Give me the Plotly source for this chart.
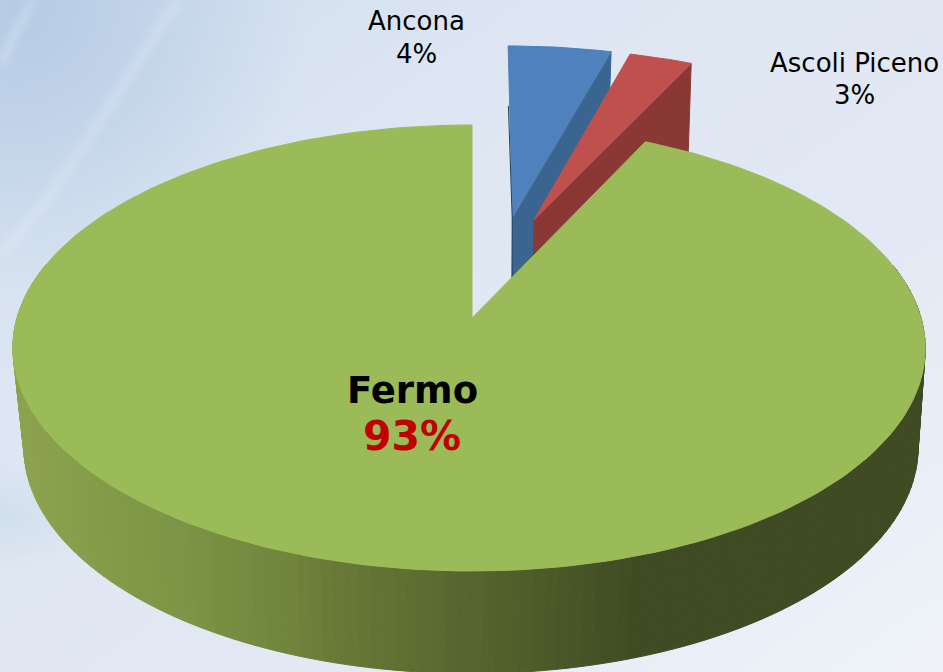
import math
from urllib.parse import quote
import plotly.graph_objects as go

# ---- data ----
categories = ["Ancona", "Ascoli Piceno", "Fermo"]
values = [4.4, 2.7, 92.9]
percent_labels = ["4%", "3%", "93%"]

# ---- styles ----
top_colors = ["#4F81BD", "#C0504D", "#9BBB59"]
wall_colors = ["#3A6591", "#8A3836"]
explode = [(0.096, 0.4916), (0.146, 0.476), (0.0, 0.0)]
wall_stops = [(20, (140, 162, 78)), (170, (124, 150, 70)), (290, (112, 132, 60)), (330, (105, 122, 56)),
              (480, (84, 100, 46)), (640, (63, 75, 34)), (930, (63, 75, 34))]
W, H = 943, 672
P = 0.1345


def top_xy(u, v):
    w = 1 + P * v
    return 472 + 452 * u / w - 3 * u * u, 318 - 219 * v / w


def bottom_xy(u, v):
    w = 1 + P * v
    return 471 + 443 * u / w, 417 - 222 * v / w


def ring(a0, a1, n):
    return [a0 + (a1 - a0) * i / n for i in range(n + 1)]


def wall_color(x):
    for (x0, c0), (x1, c1) in zip(wall_stops, wall_stops[1:]):
        if x <= x1:
            t = max(0.0, (x - x0) / (x1 - x0))
            return "rgb(%d,%d,%d)" % tuple(round(a + (b - a) * t) for a, b in zip(c0, c1))
    return "rgb(63,75,34)"


def poly(points, fill, line=None):
    return go.Scatter(x=[p[0] for p in points] + [points[0][0]], y=[p[1] for p in points] + [points[0][1]],
                      mode="lines", fill="toself", fillcolor=fill,
                      line=dict(color=line or fill, width=1 if line else 0),
                      hoverinfo="skip", showlegend=False)


fig = go.Figure()

# angles come from the values
total = sum(values)
edges = [0.0]
for val in values:
    edges.append(edges[-1] + 360.0 * val / total)

# exploded small slices: wall then top
for i in (0, 1):
    du, dv = explode[i]
    a0, a1 = math.radians(edges[i]), math.radians(edges[i + 1])
    apex = top_xy(du, dv)
    end = top_xy(du + math.sin(a1), dv + math.cos(a1))
    drop = 90
    fig.add_trace(poly([apex, end, (end[0] - 3, end[1] + drop), (apex[0] - 1, apex[1] + drop)], wall_colors[i], wall_colors[i]))
    arc = [top_xy(du + math.sin(a), dv + math.cos(a)) for a in ring(a0, a1, 16)]
    fig.add_trace(poly([apex] + arc, top_colors[i], top_colors[i]))
    if i == 0:
        start = arc[0]
        fig.add_trace(go.Scatter(x=[start[0] + 0.3, apex[0] - 0.5, apex[0] - 0.5], y=[start[1] + 60, apex[1], apex[1] + 62],
                                 mode="lines", line=dict(color="#24405F", width=1.0), hoverinfo="skip", showlegend=False))

# Fermo wall, strip by strip along the front of the rim
a0, a1 = math.radians(edges[2]), math.radians(edges[3])
angles = ring(a0, a1, 240)
for b0, b1 in zip(angles, angles[1:]):
    if math.cos((b0 + b1) / 2) > 0.25:
        continue
    t0, t1 = top_xy(math.sin(b0), math.cos(b0)), top_xy(math.sin(b1), math.cos(b1))
    s0, s1 = bottom_xy(math.sin(b0), math.cos(b0)), bottom_xy(math.sin(b1), math.cos(b1))
    col = wall_color((t0[0] + t1[0]) / 2)
    fig.add_trace(poly([t0, t1, s1, s0], col, col))

# Fermo top
apex = top_xy(0, 0)
arc = [top_xy(math.sin(a), math.cos(a)) for a in angles]
fig.add_trace(poly([apex] + arc, top_colors[2], top_colors[2]))

# Background
svg = f'''<svg xmlns="http://www.w3.org/2000/svg" width="{W}" height="{H}" viewBox="0 0 {W} {H}">
<defs>
<linearGradient id="g" x1="0" y1="0" x2="1" y2="1">
<stop offset="0" stop-color="#cfdded"/><stop offset="0.3" stop-color="#dde6f2"/>
<stop offset="0.65" stop-color="#e3e9f4"/><stop offset="1" stop-color="#eff3f9"/></linearGradient>
<radialGradient id="r" gradientUnits="userSpaceOnUse" cx="20" cy="10" r="290">
<stop offset="0" stop-color="#b5cbe5" stop-opacity="1"/><stop offset="1" stop-color="#b5cbe5" stop-opacity="0"/></radialGradient>
<radialGradient id="b"><stop offset="0" stop-color="#cfdeec" stop-opacity="0.9"/>
<stop offset="1" stop-color="#cfdeec" stop-opacity="0"/></radialGradient>
<filter id="f" x="-20%" y="-20%" width="140%" height="140%"><feGaussianBlur stdDeviation="4"/></filter>
</defs>
<rect width="{W}" height="{H}" fill="url(#g)"/>
<rect width="{W}" height="{H}" fill="url(#r)"/>
<ellipse cx="0" cy="515" rx="110" ry="55" fill="url(#b)"/>
<path d="M178 0 C130 70 70 180 0 255" stroke="#ffffff" stroke-opacity="0.22" stroke-width="8" fill="none" filter="url(#f)"/>
<path d="M32 0 C20 25 10 45 0 65" stroke="#ffffff" stroke-opacity="0.28" stroke-width="7" fill="none" filter="url(#f)"/>
</svg>'''

texts = [
    (416, 21, categories[0], 26, "#000000", "normal"),
    (416, 54, percent_labels[0], 26, "#000000", "normal"),
    (854, 63, categories[1], 26, "#000000", "normal"),
    (854, 95, percent_labels[1], 26, "#000000", "normal"),
    (412, 390, categories[2], 37, "#000000", "bold"),
    (412, 436, percent_labels[2], 41, "#C00000", "bold"),
]
annotations = [dict(x=x, y=y, text=t, showarrow=False, xanchor="center", yanchor="middle",
                    font=dict(family="DejaVu Sans", size=s, color=c, weight=wt))
               for x, y, t, s, c, wt in texts]

fig.update_layout(
    width=W, height=H, margin=dict(l=0, r=0, t=0, b=0), showlegend=False,
    paper_bgcolor="#e3e9f4", plot_bgcolor="rgba(0,0,0,0)",
    xaxis=dict(range=[0, W], visible=False, fixedrange=True),
    yaxis=dict(range=[H, 0], visible=False, fixedrange=True),
    images=[dict(source="data:image/svg+xml," + quote(svg), xref="x", yref="y", x=0, y=0, sizex=W, sizey=H,
                 sizing="stretch", layer="below", xanchor="left", yanchor="top")],
    annotations=annotations,
)
fig.write_html("out.html", config=dict(displayModeBar=False),
               post_script="document.documentElement.style.margin='0';document.body.style.margin='0';document.body.style.overflow='hidden';")
